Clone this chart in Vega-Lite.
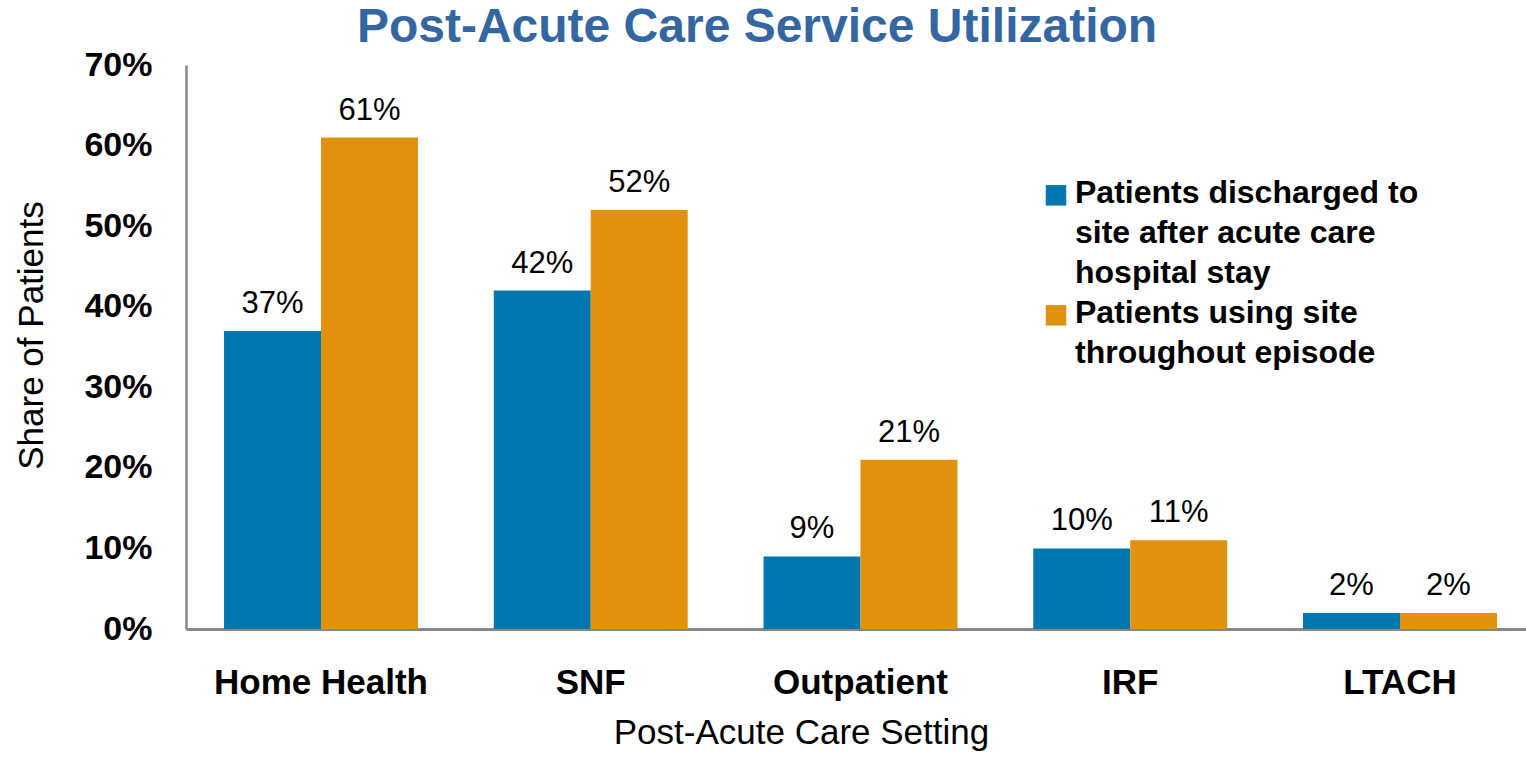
{
  "$schema": "https://vega.github.io/schema/vega-lite/v6.json",
  "width": 1340,
  "height": 564,
  "autosize": {"type": "none"},
  "padding": {"left": 186, "top": 65, "right": 0, "bottom": 133},
  "background": "white",
  "title": {
    "text": "Post-Acute Care Service Utilization",
    "font": "Liberation Sans",
    "fontSize": 48,
    "fontWeight": "bold",
    "color": "#3467A1",
    "anchor": "middle",
    "dx": -99,
    "dy": 8,
    "offset": 4
  },
  "data": {
    "values": [
      {"setting": "Home Health", "series": "Patients discharged to site after acute care hospital stay", "value": 0.37},
      {"setting": "Home Health", "series": "Patients using site throughout episode", "value": 0.61},
      {"setting": "SNF", "series": "Patients discharged to site after acute care hospital stay", "value": 0.42},
      {"setting": "SNF", "series": "Patients using site throughout episode", "value": 0.52},
      {"setting": "Outpatient", "series": "Patients discharged to site after acute care hospital stay", "value": 0.09},
      {"setting": "Outpatient", "series": "Patients using site throughout episode", "value": 0.21},
      {"setting": "IRF", "series": "Patients discharged to site after acute care hospital stay", "value": 0.10},
      {"setting": "IRF", "series": "Patients using site throughout episode", "value": 0.11},
      {"setting": "LTACH", "series": "Patients discharged to site after acute care hospital stay", "value": 0.02},
      {"setting": "LTACH", "series": "Patients using site throughout episode", "value": 0.02}
    ]
  },
  "encoding": {
    "x": {
      "field": "setting",
      "type": "nominal",
      "sort": ["Home Health", "SNF", "Outpatient", "IRF", "LTACH"],
      "scale": {"range": [0, 1349], "paddingInner": 0.281, "paddingOuter": 0.141},
      "axis": {
        "title": "Post-Acute Care Setting",
        "titleFont": "Liberation Sans",
        "titleFontSize": 35,
        "titleFontWeight": "normal",
        "titleColor": "black",
        "titleX": 615,
        "titleY": 114,
        "titleBaseline": "alphabetic",
        "labelFont": "Liberation Sans",
        "labelFontSize": 35,
        "labelFontWeight": "bold",
        "labelColor": "black",
        "labelAngle": 0,
        "labelPadding": 36,
        "labelLimit": 500,
        "ticks": false,
        "domainColor": "#888888",
        "domainWidth": 3
      }
    },
    "xOffset": {
      "field": "series",
      "type": "nominal",
      "sort": ["Patients discharged to site after acute care hospital stay", "Patients using site throughout episode"]
    },
    "y": {
      "field": "value",
      "type": "quantitative",
      "scale": {"domain": [0, 0.7]},
      "axis": {
        "values": [0, 0.1, 0.2, 0.3, 0.4, 0.5, 0.6, 0.7],
        "format": ".0%",
        "grid": false,
        "ticks": false,
        "labelFont": "Liberation Sans",
        "labelFontSize": 34,
        "labelFontWeight": "bold",
        "labelColor": "black",
        "labelPadding": 34,
        "domainColor": "#888888",
        "domainWidth": 2.5,
        "title": "Share of Patients",
        "titleFont": "Liberation Sans",
        "titleFontSize": 35,
        "titleFontWeight": "normal",
        "titleColor": "black",
        "titleAngle": 270,
        "titleX": -155,
        "titleY": 270,
        "titleBaseline": "middle",
        "titleAlign": "center"
      }
    }
  },
  "layer": [
    {
      "mark": {"type": "bar"},
      "encoding": {
        "color": {
          "field": "series",
          "type": "nominal",
          "sort": ["Patients discharged to site after acute care hospital stay", "Patients using site throughout episode"],
          "scale": {"range": ["#0077B0", "#E0920E"]},
          "legend": {
            "title": null,
            "orient": "none",
            "legendX": 854,
            "legendY": 122,
            "symbolType": "M-1,-1.75H1V0.25H-1Z",
            "symbolSize": 420,
            "symbolStrokeWidth": 0,
            "symbolOpacity": 1,
            "labelFont": "Liberation Sans",
            "labelFontSize": 32,
            "labelFontWeight": "bold",
            "labelColor": "black",
            "labelOffset": 3,
            "labelLimit": 700,
            "labelBaseline": "alphabetic",
            "rowPadding": 8,
            "labelExpr": "datum.label == 'Patients using site throughout episode' ? ['Patients using site', 'throughout episode'] : ['Patients discharged to', 'site after acute care', 'hospital stay']"
          }
        }
      }
    },
    {
      "mark": {"type": "text", "baseline": "alphabetic", "dy": -18, "font": "Liberation Sans", "fontSize": 31, "color": "black"},
      "encoding": {
        "text": {"field": "value", "type": "quantitative", "format": ".0%"}
      }
    }
  ],
  "config": {
    "view": {"stroke": null},
    "style": {"guide-label": {"lineHeight": 40}}
  }
}
